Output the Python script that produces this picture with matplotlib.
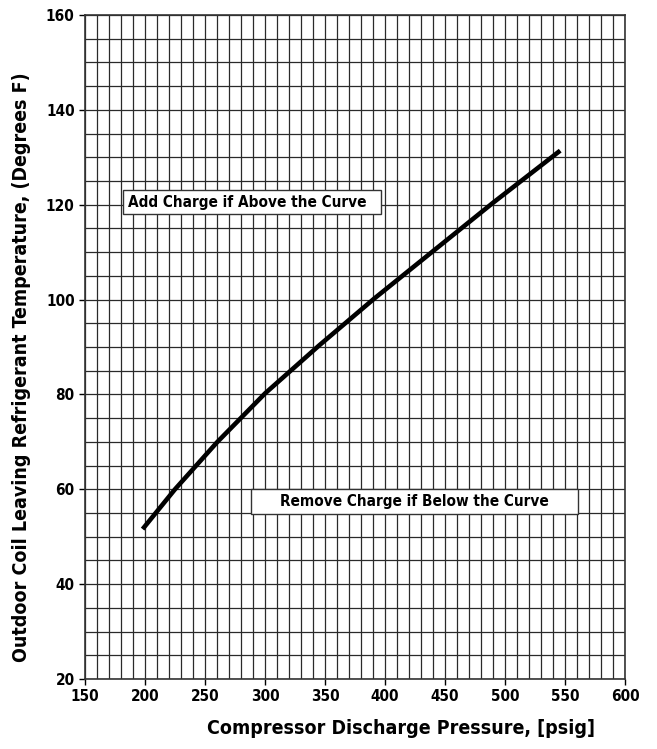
import matplotlib as mpl
import matplotlib.pyplot as plt
from matplotlib.patches import Rectangle
import numpy as np

# curve
pressure = [198, 225, 260, 300, 345, 391, 440, 490, 546]
temperature = [51.6, 60.0, 69.9, 80.2, 90.3, 100.2, 110.2, 120.4, 131.4]

x_ticks = [150, 200, 250, 300, 350, 400, 450, 500, 550, 600]
y_ticks = [20, 40, 60, 80, 100, 120, 140, 160]

add_note = "Add Charge if Above the Curve"
remove_note = "Remove Charge if Below the Curve"

mpl.rcParams.update(
    {
        "font.family": "DejaVu Sans",
        "font.weight": "bold",
        "font.stretch": "condensed",
    }
)

fig = plt.figure(figsize=(6.57, 7.49), dpi=100)
ax = fig.add_axes([0.1294, 0.0935, 0.8219, 0.8865])

ax.set_xlim(150, 600)
ax.set_ylim(20, 160)
ax.set_xticks(x_ticks)
ax.set_yticks(y_ticks)
ax.set_xticks(np.arange(150, 601, 10), minor=True)
ax.set_yticks(np.arange(20, 161, 5), minor=True)
ax.grid(which="both", color="#2a2a2a", linewidth=0.9)
ax.tick_params(which="major", length=4, width=1, labelsize=11, direction="out")
ax.tick_params(which="minor", length=0)
for s in ax.spines.values():
    s.set_linewidth(1.2)
    s.set_color("#333333")

ax.plot(pressure, temperature, color="black", linewidth=3.3,
        solid_capstyle="butt", solid_joinstyle="round", zorder=5)

# note boxes
ax.add_patch(Rectangle((181.7, 118.0), 215, 5.1, facecolor="white",
                       edgecolor="#333333", linewidth=1, zorder=6))
ax.text(185.5, 120.55, add_note, fontsize=11, va="center", ha="left", zorder=7)
ax.add_patch(Rectangle((288.3, 54.8), 272.5, 5.25, facecolor="white",
                       edgecolor="#333333", linewidth=1, zorder=6))
ax.text(424.5, 57.45, remove_note, fontsize=11, va="center", ha="center", zorder=7)

fig.text(401 / 657, 1 - 729 / 749, "Compressor Discharge Pressure, [psig]",
         fontsize=14, ha="center", va="center")
fig.text(22 / 657, 1 - 367 / 749, "Outdoor Coil Leaving Refrigerant Temperature, (Degrees F)",
         fontsize=14, ha="center", va="center", rotation=90)

fig.savefig("out.png", dpi=100)
